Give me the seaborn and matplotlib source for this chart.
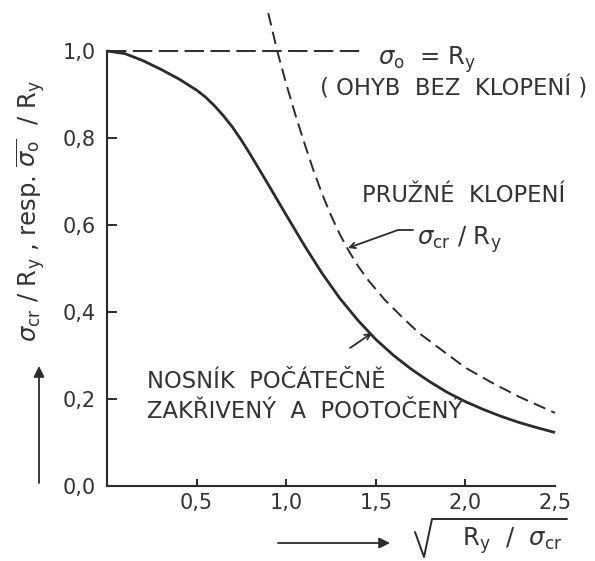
import matplotlib
matplotlib.use("Agg")
import matplotlib.pyplot as plt
import seaborn as sns
import pandas as pd

# ---- data ----
curve_x = [0.0, 0.1, 0.2, 0.3, 0.4, 0.5, 0.55, 0.6, 0.65, 0.7, 0.75, 0.8, 0.9,
           1.0, 1.1, 1.2, 1.3, 1.4, 1.5, 1.6, 1.7, 1.8, 1.9, 2.0, 2.1, 2.2,
           2.3, 2.4, 2.5]
curve_y = [1.0, 0.994, 0.978, 0.958, 0.936, 0.91, 0.894, 0.874, 0.851, 0.825,
           0.795, 0.762, 0.693, 0.623, 0.554, 0.489, 0.431, 0.381, 0.337, 0.30,
           0.268, 0.24, 0.215, 0.194, 0.176, 0.16, 0.146, 0.134, 0.123]

elastic_x = [0.90, 0.95, 1.0, 1.05, 1.1, 1.15, 1.2, 1.25, 1.3, 1.35, 1.4, 1.46,
             1.55, 1.65, 1.74, 1.85, 2.0, 2.15, 2.3, 2.5]
elastic_y = [1.087, 1.0, 0.925, 0.855, 0.79, 0.728, 0.672, 0.622, 0.578, 0.54,
             0.506, 0.472, 0.428, 0.387, 0.352, 0.318, 0.272, 0.237, 0.205, 0.168]

plateau_x = [0.0, 1.43]
plateau_y = [1.0, 1.0]

xticks = [0.5, 1.0, 1.5, 2.0, 2.5]
xticklabels = ["0,5", "1,0", "1,5", "2,0", "2,5"]
yticks = [0.0, 0.2, 0.4, 0.6, 0.8, 1.0]
yticklabels = ["0,0", "0,2", "0,4", "0,6", "0,8", "1,0"]

# ---- figure ----
W, H = 595, 561
sns.set_style("white")
plt.rcParams["font.family"] = ["DejaVu Sans"]
plt.rcParams["mathtext.fontset"] = "dejavusans"
INK = "#2b2b2b"
TXT = "#333333"

fig = plt.figure(figsize=(W / 100, H / 100), dpi=100)
ax = fig.add_axes([107 / W, 1 - 486 / H, (555 - 107) / W, (486 - 7.5) / H])

df_curve = pd.DataFrame({"x": curve_x, "y": curve_y})
df_el = pd.DataFrame({"x": elastic_x, "y": elastic_y})
df_pl = pd.DataFrame({"x": plateau_x, "y": plateau_y})

sns.lineplot(data=df_curve, x="x", y="y", ax=ax, color=INK, lw=2.0,
             sort=False, estimator=None)
sns.lineplot(data=df_el, x="x", y="y", ax=ax, color=INK, lw=1.4,
             sort=False, estimator=None)
sns.lineplot(data=df_pl, x="x", y="y", ax=ax, color=INK, lw=1.4,
             sort=False, estimator=None)
ax.lines[1].set_dashes((6.5, 3.3))
ax.lines[2].set_dashes((10, 3.3))
for ln in ax.lines:
    ln.set_clip_on(False)
    ln.set_solid_capstyle("butt")
    ln.set_solid_joinstyle("round")

ax.set_xlim(0, 2.5)
ax.set_ylim(0, 1.1)
ax.set_xlabel("")
ax.set_ylabel("")

for s in ["top", "right"]:
    ax.spines[s].set_visible(False)
ax.spines["left"].set_bounds(0, 1.0)
ax.spines["bottom"].set_bounds(0, 2.5)
for s in ["left", "bottom"]:
    ax.spines[s].set_linewidth(1.5)
    ax.spines[s].set_color(INK)

ax.set_xticks(xticks)
ax.set_xticklabels(xticklabels)
ax.set_yticks(yticks)
ax.set_yticklabels(yticklabels)
ax.tick_params(axis="x", direction="in", length=5, width=1.4, color=INK,
               labelsize=15, labelcolor=TXT, pad=5, bottom=True)
ax.tick_params(axis="y", direction="in", length=7, width=1.4, color=INK,
               labelsize=15, labelcolor=TXT, pad=8, left=True)
ax.xaxis.get_major_ticks()[-1].tick1line.set_visible(False)
ax.yaxis.get_major_ticks()[0].tick1line.set_visible(False)
ax.yaxis.get_major_ticks()[-1].tick1line.set_visible(False)


def P(px, py):
    return (px / W, 1 - py / H)


fs = 16.3
# annotations
fig.text(*P(378, 65), r"$\sigma_{\mathrm{o}}$  = R$_\mathrm{y}$", fontsize=17.5,
         color=TXT, ha="left", va="baseline")
fig.text(*P(320, 88), "( OHYB  BEZ  KLOPENÍ )", fontsize=fs, color=TXT,
         ha="left", va="center")
fig.text(*P(362, 195), "PRUŽNÉ  KLOPENÍ", fontsize=fs, color=TXT,
         ha="left", va="center")
fig.text(*P(417, 240), r"$\sigma_{\mathrm{cr}}$ / R$_\mathrm{y}$", fontsize=17.5,
         color=TXT, ha="left", va="center")
fig.text(*P(147, 382), "NOSNÍK  POČÁTEČNĚ", fontsize=fs, color=TXT,
         ha="left", va="center")
fig.text(*P(147, 412), "ZAKŘIVENÝ  A  POOTOČENÝ", fontsize=fs, color=TXT,
         ha="left", va="center")

# leader arrows
fig.add_artist(plt.Line2D([398 / W, 413 / W], [1 - 230 / H, 1 - 230 / H],
                          color=INK, lw=1.3))
ax.annotate("", xy=P(348, 248), xycoords="figure fraction",
            xytext=P(398, 230), textcoords="figure fraction",
            arrowprops=dict(arrowstyle="->", color=INK, lw=1.3,
                            shrinkA=0, shrinkB=0))
ax.annotate("", xy=P(372, 333), xycoords="figure fraction",
            xytext=P(350, 348), textcoords="figure fraction",
            arrowprops=dict(arrowstyle="->", color=INK, lw=1.3,
                            shrinkA=0, shrinkB=0))

# y axis label and arrow
fig.text(*P(31, 211),
         r"$\sigma_{\mathrm{cr}}$ / R$_\mathrm{y}$ , resp. $\overline{\sigma_{\mathrm{o}}}$  / R$_\mathrm{y}$",
         fontsize=17.5, color=TXT, rotation=90, ha="center", va="center")
ax.annotate("", xy=P(39, 366), xycoords="figure fraction",
            xytext=P(39, 483), textcoords="figure fraction",
            arrowprops=dict(arrowstyle="-|>", color=INK, lw=1.3,
                            mutation_scale=16, shrinkA=0, shrinkB=0))

# x axis label and arrow
ax.annotate("", xy=P(390, 543), xycoords="figure fraction",
            xytext=P(278, 543), textcoords="figure fraction",
            arrowprops=dict(arrowstyle="-|>", color=INK, lw=1.3,
                            mutation_scale=16, shrinkA=0, shrinkB=0))
rx = [415 / W, 424 / W, 432 / W, 567 / W]
ry = [1 - 532 / H, 1 - 557 / H, 1 - 519 / H, 1 - 519 / H]
fig.add_artist(plt.Line2D(rx, ry, color=INK, lw=1.4))
fig.text(*P(512, 541), r"R$_\mathrm{y}$  /  $\sigma_{\mathrm{cr}}$",
         fontsize=17.5, color=TXT, ha="center", va="center")

fig.savefig("out.png", dpi=100, facecolor="white")
